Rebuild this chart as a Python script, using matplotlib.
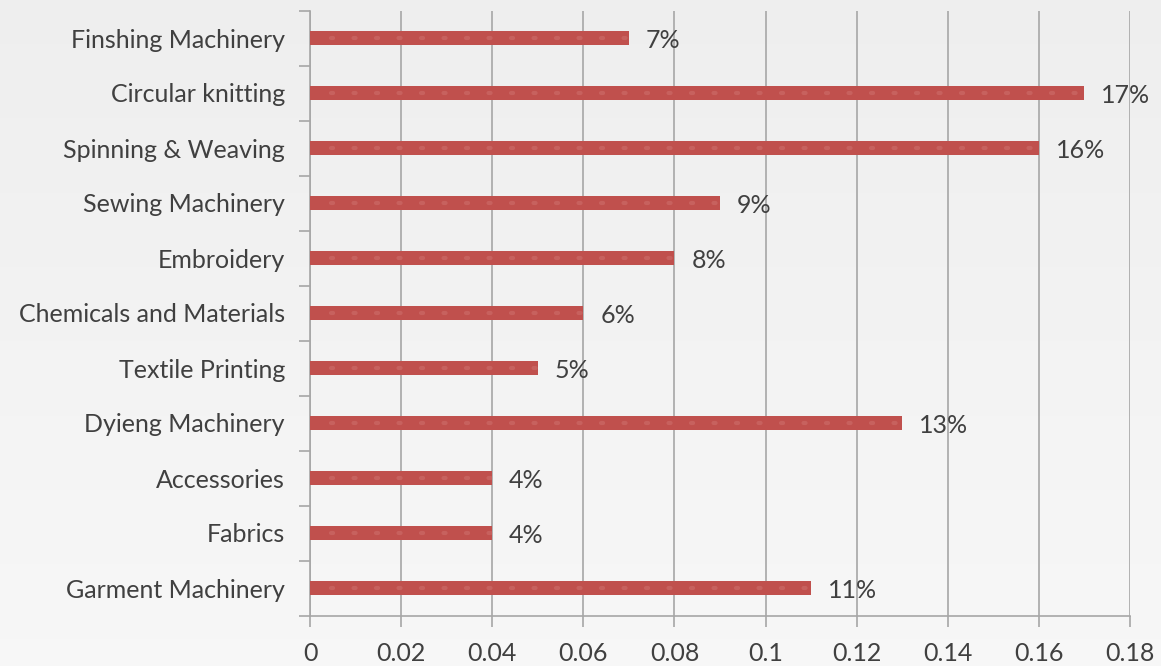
import numpy as np
import matplotlib.pyplot as plt

categories = ["Garment Machinery", "Fabrics", "Accessories", "Dyieng Machinery",
              "Textile Printing", "Chemicals and Materials", "Embroidery",
              "Sewing Machinery", "Spinning & Weaving", "Circular knitting",
              "Finshing Machinery"]
shares = [0.11, 0.04, 0.04, 0.13, 0.05, 0.06, 0.08, 0.09, 0.16, 0.17, 0.07]
xticks = [0, 0.02, 0.04, 0.06, 0.08, 0.1, 0.12, 0.14, 0.16, 0.18]
xtick_labels = ["0", "0.02", "0.04", "0.06", "0.08", "0.1", "0.12", "0.14", "0.16", "0.18"]

plt.rcParams['font.family'] = ['Lato', 'DejaVu Sans']
bar_color = '#c0504d'
grid_color = '#a6a6a6'
text_color = '#404040'
fs = 18

fig = plt.figure(figsize=(11.61, 6.66), dpi=100)

# soft vertical background gradient
bg = fig.add_axes([0, 0, 1, 1], zorder=-1)
grad = np.linspace(0.935, 0.97, 256).reshape(-1, 1)
bg.imshow(np.dstack([grad, grad, grad]), aspect='auto', extent=[0, 1, 0, 1])
bg.axis('off')

ax = fig.add_axes([310 / 1161, 1 - 615.5 / 666, 820 / 1161, 605 / 666])
ax.set_facecolor('none')

y = np.arange(len(categories))
ax.barh(y, shares, height=0.24, color=bar_color, zorder=3)
# faint dotted texture along each bar
for yi, v in zip(y, shares):
    ax.plot([0.0045, v], [yi, yi], color='#d98a87', lw=3, ls=(0, (0.5, 4.9)),
            dash_capstyle='round', zorder=4, alpha=0.3)

for yi, v in zip(y, shares):
    ax.text(v + 0.0037, yi - 0.04, f"{v * 100:.0f}%", va='center', ha='left',
            fontsize=fs, color=text_color, zorder=5)

ax.set_xlim(0, 0.18)
ax.set_ylim(-0.5, len(categories) - 0.5)
ax.set_xticks(xticks)
ax.set_xticklabels(xtick_labels)
ax.set_yticks(y)
ax.set_yticklabels(categories)
ax.set_yticks(np.arange(-0.5, len(categories), 1), minor=True)

ax.grid(axis='x', color=grid_color, lw=1.2, zorder=0)
for s in ['top', 'right']:
    ax.spines[s].set_visible(False)
for s in ['left', 'bottom']:
    ax.spines[s].set_color(grid_color)
    ax.spines[s].set_linewidth(1.2)

ax.tick_params(axis='y', which='major', length=0, pad=18, labelsize=fs,
               labelcolor=text_color)
ax.tick_params(axis='y', which='minor', length=8, width=1.2, color=grid_color)
ax.tick_params(axis='x', length=8, width=1.2, color=grid_color, pad=11,
               labelsize=fs, labelcolor=text_color)

fig.savefig('out.png', dpi=100)
